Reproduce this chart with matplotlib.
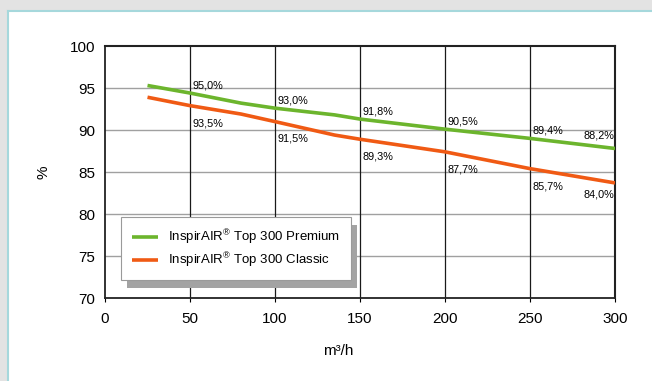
import matplotlib
matplotlib.use("Agg")
import matplotlib.pyplot as plt
from matplotlib.patches import Rectangle
from matplotlib.lines import Line2D
import numpy as np

plt.rcParams['font.family'] = ['Liberation Sans', 'DejaVu Sans']
plt.rcParams['mathtext.fontset'] = 'custom'
plt.rcParams['mathtext.rm'] = 'Liberation Sans'
plt.rcParams['mathtext.it'] = 'Liberation Sans'

# Data
flow = [25, 50, 80, 100, 135, 150, 200, 250, 300]
premium = [95.3, 94.4, 93.2, 92.6, 91.8, 91.3, 90.1, 89.0, 87.8]
classic = [93.9, 92.9, 91.9, 91.0, 89.4, 88.9, 87.4, 85.4, 83.7]
label_flow = [50, 100, 150, 200, 250, 300]
premium_labels = ["95,0%", "93,0%", "91,8%", "90,5%", "89,4%", "88,2%"]
classic_labels = ["93,5%", "91,5%", "89,3%", "87,7%", "85,7%", "84,0%"]
series_names = ["InspirAIR$^{\\mathregular{®}}$ Top 300 Premium",
                "InspirAIR$^{\\mathregular{®}}$ Top 300 Classic"]
xticks = [0, 50, 100, 150, 200, 250, 300]
yticks = [70, 75, 80, 85, 90, 95, 100]

green = "#6cb52d"
orange = "#f05a14"

fig = plt.figure(figsize=(6.52, 3.81), dpi=100)
fig.patch.set_facecolor("#e3e3e3")
W, H = 652, 381
# white panel with teal border
fig.add_artist(Rectangle((7 / W, 0), 1, (H - 10) / H, transform=fig.transFigure,
                         facecolor="white", edgecolor="none", zorder=0))
fig.add_artist(Line2D([7.5 / W, 7.5 / W], [0, (H - 10.5) / H], transform=fig.transFigure,
                      color="#a6d8dc", lw=1.5))
fig.add_artist(Line2D([7.5 / W, 1], [(H - 10.5) / H, (H - 10.5) / H], transform=fig.transFigure,
                      color="#a6d8dc", lw=1.5))

ax = fig.add_axes([105 / W, 83 / H, 510 / W, 252 / H])
ax.set_facecolor("white")
ax.set_xlim(0, 300)
ax.set_ylim(70, 100)
ax.set_xticks(xticks)
ax.set_yticks(yticks)
ax.tick_params(axis='both', labelsize=11, colors="black", length=3, width=0.8)
ax.tick_params(axis='x', pad=7)
ax.tick_params(axis='y', length=0, pad=7)

for y in yticks[1:-1]:
    ax.axhline(y, color="#a0a0a0", lw=1.0, zorder=1)
for x in xticks[1:-1]:
    ax.axvline(x, color="#1a1a1a", lw=0.9, zorder=1)

for side in ["top", "right", "left", "bottom"]:
    ax.spines[side].set_color("#222222")
ax.spines["top"].set_linewidth(1.5)
ax.spines["right"].set_linewidth(1.5)
ax.spines["left"].set_linewidth(1.3)
ax.spines["bottom"].set_linewidth(1.3)

ax.plot(flow, premium, color=green, lw=2.6, zorder=3, label=series_names[0], solid_capstyle='butt')
ax.plot(flow, classic, color=orange, lw=2.6, zorder=3, label=series_names[1], solid_capstyle='butt')

p_at = np.interp(label_flow, flow, premium)
c_at = np.interp(label_flow, flow, classic)
for i, (x, txt) in enumerate(zip(label_flow, premium_labels)):
    last = i == len(label_flow) - 1
    ax.annotate(txt, (x, p_at[i]), xytext=(-0.5 if last else 1.5, 9 if last else 5.5),
                textcoords="offset points", fontsize=7.8, ha="right" if last else "left",
                va="center", zorder=4)
for i, (x, txt) in enumerate(zip(label_flow, classic_labels)):
    last = i == len(label_flow) - 1
    ax.annotate(txt, (x, c_at[i]), xytext=(-0.5 if last else 1.5, -8 if last else -12.5),
                textcoords="offset points", fontsize=7.8, ha="right" if last else "left",
                va="center", zorder=4)

ax.set_ylabel("%", fontsize=11)
ax.yaxis.set_label_coords(-54 / 510, 0.5)
ax.set_xlabel("m³/h", fontsize=11)
ax.xaxis.set_label_coords(233 / 510, -46 / 252)

leg = ax.legend(loc="upper left", bbox_to_anchor=(16 / 510, (298 - 217) / 252),
                fontsize=9.5, frameon=True, fancybox=False, shadow=False,
                handlelength=2.0, handletextpad=0.8, borderpad=0.8, labelspacing=0.3,
                borderaxespad=0)
frame = leg.get_frame()
frame.set_edgecolor("#9a9a9a")
frame.set_linewidth(0.8)
frame.set_facecolor("white")
frame.set_alpha(1)
leg.set_zorder(6)

fig.canvas.draw()
bb = leg.get_window_extent().transformed(ax.transAxes.inverted())
ax.add_patch(Rectangle((bb.x0 + 6 / 510, bb.y0 - 8 / 252), bb.width, bb.height,
                       transform=ax.transAxes, facecolor="#a3a3a3", edgecolor="none", zorder=5))

fig.savefig("out.png", dpi=100, facecolor=fig.get_facecolor())
